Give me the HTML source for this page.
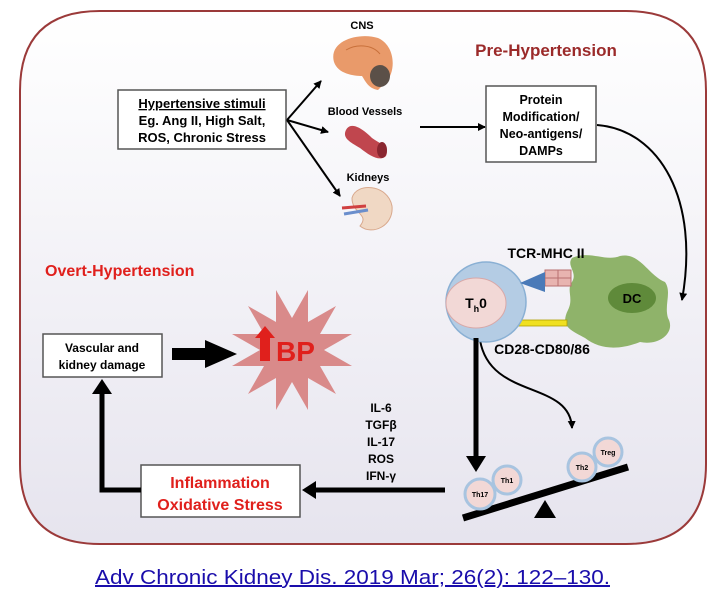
<!DOCTYPE html>
<html><head><meta charset="utf-8"><style>
body{margin:0;background:#fff;width:728px;height:598px;overflow:hidden}
svg{display:block}
text{font-family:"Liberation Sans",sans-serif;font-weight:bold}
</style></head><body>
<svg width="728" height="598" viewBox="0 0 728 598" xmlns="http://www.w3.org/2000/svg">
<defs>
<linearGradient id="bg" x1="0" y1="0" x2="0" y2="1"><stop offset="0" stop-color="#ffffff"/><stop offset="1" stop-color="#e6e4ee"/></linearGradient>
<marker id="ah" markerWidth="8" markerHeight="8" refX="7" refY="4" orient="auto" markerUnits="userSpaceOnUse"><path d="M0,0 L8,4 L0,8 Z" fill="#000"/></marker>
</defs>
<path d="M100,11 H626 Q706,11 706,91 V464 Q706,544 626,544 H100 Q20,544 20,464 V91 Q20,11 100,11 Z" fill="url(#bg)" stroke="#9b3a3a" stroke-width="2"/>
<text x="546" y="56" font-size="17" fill="#9b2a2a" text-anchor="middle">Pre-Hypertension</text>
<text x="45" y="276" font-size="16" fill="#e0201c">Overt-Hypertension</text>
<rect x="118" y="90" width="168" height="59" fill="#fff" stroke="#555" stroke-width="1.5"/>
<text x="202" y="108" font-size="13" text-anchor="middle" text-decoration="underline">Hypertensive stimuli</text>
<text x="202" y="125" font-size="13" text-anchor="middle">Eg. Ang II, High Salt,</text>
<text x="202" y="142" font-size="13" text-anchor="middle">ROS, Chronic Stress</text>
<g stroke="#000" stroke-width="2" fill="none" marker-end="url(#ah)">
<line x1="287" y1="120" x2="321" y2="81"/>
<line x1="287" y1="120" x2="328" y2="132"/>
<line x1="287" y1="120" x2="340" y2="196"/>
<line x1="420" y1="127" x2="485" y2="127"/>
<path d="M597,125 C660,130 700,200 682,300"/>
<path d="M480,340 C490,400 570,380 572,428"/>
</g>
<text x="362" y="29" font-size="11" text-anchor="middle">CNS</text>
<path d="M334,62 C328,40 360,32 378,38 C396,46 396,72 386,82 L378,90 C368,88 366,82 362,76 C354,76 338,74 334,62Z" fill="#e99a6a"/>
<path d="M346,50 C356,44 372,44 380,54" stroke="#c8703a" fill="none"/>
<ellipse cx="380" cy="76" rx="10" ry="11" fill="#5b5048"/>
<text x="365" y="115" font-size="11" text-anchor="middle">Blood Vessels</text>
<path d="M346,130 C350,122 360,126 372,138 C380,144 390,146 386,156 C380,162 370,156 360,148 C350,142 342,138 346,130Z" fill="#c0464e"/>
<ellipse cx="382" cy="150" rx="5" ry="8" fill="#8a2630"/>
<text x="368" y="181" font-size="11" text-anchor="middle">Kidneys</text>
<path d="M352,198 C356,182 388,184 392,206 C394,226 372,236 360,226 C370,214 352,214 352,198Z" fill="#f0d8c4" stroke="#d8a88c"/>
<line x1="342" y1="208" x2="366" y2="206" stroke="#d04040" stroke-width="3"/>
<line x1="344" y1="214" x2="368" y2="210" stroke="#6a8ecc" stroke-width="3"/>
<rect x="486" y="86" width="110" height="76" fill="#fff" stroke="#555" stroke-width="1.5"/>
<text x="541" y="104" font-size="12.5" text-anchor="middle">Protein</text>
<text x="541" y="121" font-size="12.5" text-anchor="middle">Modification/</text>
<text x="541" y="138" font-size="12.5" text-anchor="middle">Neo-antigens/</text>
<text x="541" y="155" font-size="12.5" text-anchor="middle">DAMPs</text>
<path d="M572,258 C590,250 605,262 620,256 C640,252 648,275 665,282 C672,292 664,305 668,318 C676,332 660,346 640,342 C620,350 600,350 585,338 C570,330 560,326 568,310 C574,298 566,290 572,282 C578,272 566,266 572,258Z" fill="#8fb36a"/>
<ellipse cx="632" cy="298" rx="24" ry="15" fill="#5f8a3a"/>
<text x="632" y="303" font-size="13" text-anchor="middle">DC</text>
<rect x="545" y="270" width="26" height="16" fill="#e8b4b0" stroke="#b87070"/>
<line x1="545" y1="278" x2="571" y2="278" stroke="#b87070"/>
<line x1="558" y1="270" x2="558" y2="286" stroke="#b87070"/>
<rect x="517" y="320" width="50" height="6" fill="#f0e020" stroke="#b0a000" stroke-width="0.8"/>
<circle cx="486" cy="302" r="40" fill="#b4cce4" stroke="#8ab0d4" stroke-width="1.5"/>
<ellipse cx="476" cy="303" rx="30" ry="25" fill="#f2d8d6" stroke="#d8a8a8"/>
<text x="476" y="308" font-size="14" text-anchor="middle">T<tspan font-size="9" dy="4">h</tspan><tspan dy="-4">0</tspan></text>
<path d="M520,283 L545,272 L545,292 Z" fill="#4a7ab8"/>
<text x="546" y="258" font-size="14" text-anchor="middle">TCR-MHC II</text>
<text x="542" y="354" font-size="14" text-anchor="middle">CD28-CD80/86</text>
<line x1="476" y1="338" x2="476" y2="458" stroke="#000" stroke-width="5"/>
<path d="M466,456 L486,456 L476,472 Z" fill="#000"/>
<line x1="463" y1="518" x2="628" y2="467" stroke="#000" stroke-width="7"/>
<path d="M545,500 L556,518 L534,518 Z" fill="#000"/>
<g fill="#f2d8d6" stroke="#a8c4e0" stroke-width="3">
<circle cx="480" cy="494" r="15"/><circle cx="507" cy="480" r="14"/>
<circle cx="582" cy="467" r="14"/><circle cx="608" cy="452" r="14"/>
</g>
<g font-size="7" text-anchor="middle">
<text x="480" y="497">Th17</text><text x="507" y="483">Th1</text>
<text x="582" y="470">Th2</text><text x="608" y="455">Treg</text>
</g>
<g font-size="12" text-anchor="middle">
<text x="381" y="412">IL-6</text><text x="381" y="429">TGFβ</text><text x="381" y="446">IL-17</text><text x="381" y="463">ROS</text><text x="381" y="480">IFN-γ</text>
</g>
<line x1="445" y1="490" x2="312" y2="490" stroke="#000" stroke-width="5"/>
<path d="M302,490 L316,481 L316,499 Z" fill="#000"/>
<rect x="141" y="465" width="159" height="52" fill="#fff" stroke="#555" stroke-width="1.5"/>
<text x="220" y="488" font-size="16" fill="#e0201c" text-anchor="middle">Inflammation</text>
<text x="220" y="510" font-size="16" fill="#e0201c" text-anchor="middle">Oxidative Stress</text>
<path d="M141,490 H102 V392" fill="none" stroke="#000" stroke-width="5"/>
<path d="M92,394 L112,394 L102,379 Z" fill="#000"/>
<rect x="43" y="334" width="119" height="43" fill="#fff" stroke="#555" stroke-width="1.5"/>
<text x="102" y="352" font-size="12" text-anchor="middle">Vascular and</text>
<text x="102" y="369" font-size="12" text-anchor="middle">kidney damage</text>
<rect x="172" y="348" width="35" height="12" fill="#000"/>
<path d="M205,340 L237,354 L205,368 Z" fill="#000"/>
<path d="M308,290 L308,322 L336,306 L320,334 L352,334 L324,350 L352,366 L320,366 L336,394 L308,378 L308,410 L292,382 L276,410 L276,378 L248,394 L264,366 L232,366 L260,350 L232,334 L264,334 L248,306 L276,322 L276,290 L292,318 Z" fill="#d98a8a"/>
<path d="M255,338 L265,326 L275,338 L270,338 L270,361 L260,361 L260,338 Z" fill="#e0201c"/>
<text x="276" y="361" font-size="28" fill="#e0201c">BP</text>
<text x="95" y="584" font-size="20" fill="#1a0dab" textLength="515" lengthAdjust="spacingAndGlyphs" text-decoration="underline" style="font-weight:normal">Adv Chronic Kidney Dis. 2019 Mar; 26(2): 122–130.</text>
</svg>
</body></html>
